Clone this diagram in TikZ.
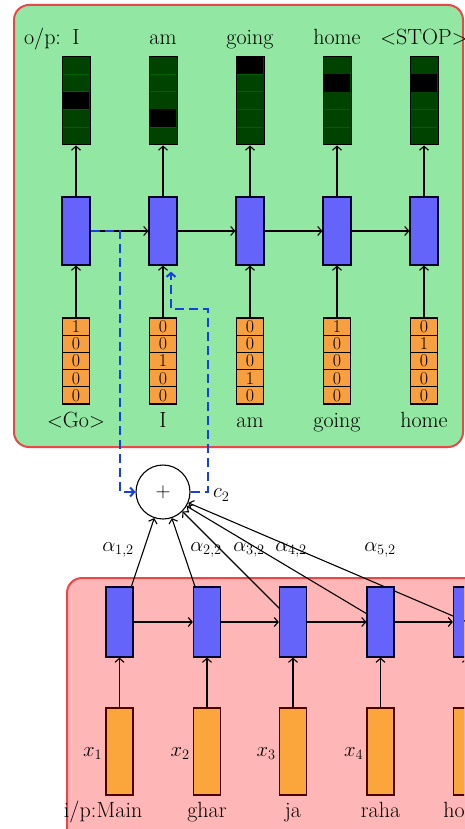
\documentclass[tikz,border=0pt]{standalone}
\usetikzlibrary{arrows.meta,calc}
\definecolor{bggreen}{RGB}{146,232,162}
\definecolor{bgpink}{RGB}{255,182,182}
\definecolor{panelred}{RGB}{232,72,72}
\definecolor{rnnblue}{RGB}{100,100,250}
\definecolor{onehot}{RGB}{248,160,64}
\definecolor{inorange}{RGB}{250,166,60}
\definecolor{outgreen}{RGB}{0,66,0}
\definecolor{rowgreen}{RGB}{0,96,0}
\definecolor{dblue}{RGB}{24,64,224}
\pgfdeclarelayer{bg}
\pgfdeclarelayer{mid}
\pgfsetlayers{bg,mid,main}
\begin{document}
\begin{tikzpicture}[x=1pt,y=-1pt,
  every node/.style={font=\fontsize{22}{26}\selectfont, inner sep=0pt},
  arr/.style={-{Straight Barb[length=4pt,width=9pt]}, line width=1.1pt},
  rnn/.style={draw=black!85!blue, line width=1.2pt, fill=rnnblue, minimum width=28pt, minimum height=68pt},
  outbox/.style={draw=black, line width=1pt, fill=outgreen, minimum width=28pt, minimum height=88pt},
  cell/.style={draw=black, line width=1.1pt, fill=onehot, minimum width=27pt, minimum height=17.2pt, font=\fontsize{18}{20}\selectfont},
  inbox/.style={draw=black!70!red, line width=1.2pt, fill=inorange, minimum width=27pt, minimum height=87pt},
  panel/.style={draw=panelred, line width=2pt, rounded corners=15pt},
  attn/.style={draw=dblue, line width=2pt, dash pattern=on 9pt off 5pt, -{Straight Barb[length=4pt,width=9pt]}}
]
\useasboundingbox (0,0) rectangle (464,829);
\clip (0,0) rectangle (464,829);
\begin{pgfonlayer}{bg}
  \path[panel, fill=bggreen] (14,5) rectangle (463,447);
  \path[panel, fill=bgpink] (67,578) rectangle (520,870);
\end{pgfonlayer}
% decoder outputs and states
\foreach \i/\x/\r/\w in {1/76/3/I,2/163/4/am,3/250/1/going,4/337/2/home,5/424/2/{$<$STOP$>$}}{
  \node[outbox] (o\i) at (\x,101) {};
  \foreach \k in {1,...,4} \draw[rowgreen, line width=0.6pt] ($(o\i.north west)+(1,\k*17.6)$) -- ++(26,0);
  \fill[black] ($(o\i.north west)+(0.5,{(\r-1)*17.6})$) rectangle ++(27,17.6);
  \node[rnn] (t\i) at (\x,231) {};
  \draw[arr] (t\i.north) -- (o\i.south);
  \node[anchor=base] (w\i) at (\x,45) {\w};
}
\node[anchor=base east] (op) at ($(w1.base west)+(-11,0)$) {o/p:};
\foreach \i/\j in {1/2,2/3,3/4,4/5} \draw[arr] (t\i.east) -- (t\j.west);
% one-hot inputs
\foreach \i/\x/\da/\db/\dc/\dd/\de/\w in {1/76/1/0/0/0/0/{$<$Go$>$},2/163/0/0/1/0/0/I,3/250/0/0/0/1/0/am,4/337/1/0/0/0/0/going,5/424/0/1/0/0/0/home}{
  \foreach \j/\v in {1/\da,2/\db,3/\dc,4/\dd,5/\de}
    \node[cell] (h\i\j) at (\x,{326.6+17.2*(\j-1)}) {\v};
  \draw[arr] (h\i1.north) -- (t\i.south);
  \node[anchor=base] (v\i) at (\x,427) {\w};
}
% attention sum
\node[circle, draw, line width=1.1pt, fill=white, minimum size=54pt] (circ) at (163,492) {$+$};
\node[anchor=west] (c2) at (213,495) {$c_2$};
% encoder
\foreach \i/\x/\w in {1/119.5/Main,2/207/ghar,3/293/ja,4/380.5/raha,5/467/home}{
  \node[rnn, minimum width=27pt, minimum height=70pt] (e\i) at (\x,622) {};
  \node[inbox] (x\i) at (\x,751.5) {};
  \draw[arr] (x\i.north) -- (e\i.south);
  \node[anchor=base] (u\i) at (\x,817) {\w};
}
\foreach \i in {1,...,4} \node[anchor=east] (xl\i) at ($(x\i.west)+(-3,2)$) {$x_\i$};
\node[anchor=base east] (ip) at (u1.base west) {i/p:};
\foreach \i/\j in {1/2,2/3,3/4,4/5} \draw[arr] (e\i.east) -- (e\j.west);
\begin{pgfonlayer}{mid}
  \foreach \i in {1,...,5} \draw[arr] (e\i.center) -- (circ);
\end{pgfonlayer}
\node (a1) at (118,550) {$\alpha_{1,2}$};
\node (a2) at (206,550) {$\alpha_{2,2}$};
\node (a3) at (249,550) {$\alpha_{3,2}$};
\node (a4) at (291,550) {$\alpha_{4,2}$};
\node (a5) at (380,550) {$\alpha_{5,2}$};
% attention dashed connectors
\draw[attn] (t1.east) -- ++(29,0) |- (circ.west);
\draw[attn] (circ.east) -- ++(17,0) |- ($(t2.south)+(8,43)$) -- ($(t2.south)+(8,6)$);
\end{tikzpicture}
\end{document}
